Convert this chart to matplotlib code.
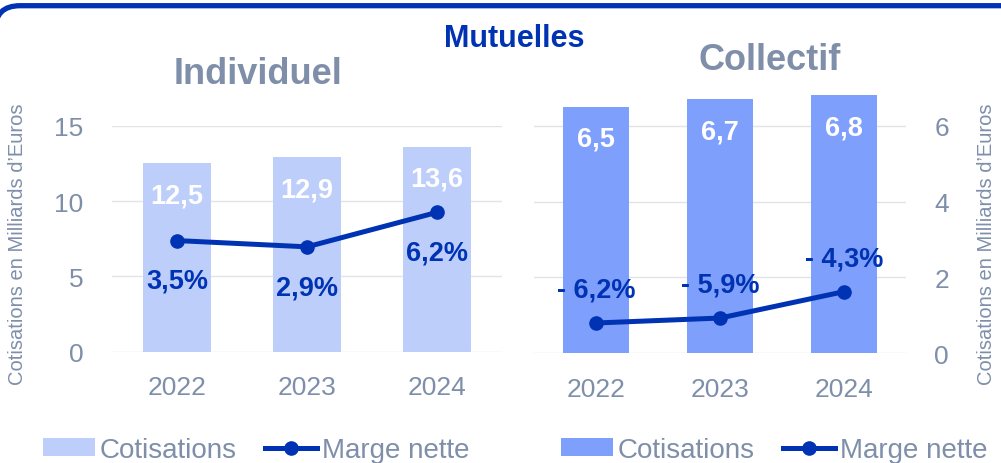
import matplotlib
matplotlib.use("Agg")
import matplotlib.pyplot as plt
from matplotlib.patches import Patch, PathPatch
from matplotlib.path import Path
from matplotlib.lines import Line2D

years = ["2022", "2023", "2024"]
indiv_cotis = [12.5, 12.9, 13.6]
indiv_marge = [3.5, 2.9, 6.2]
coll_cotis = [6.5, 6.7, 6.8]
coll_marge = [-6.2, -5.9, -4.3]
left_ticks = [0, 5, 10, 15]
right_ticks = [0, 2, 4, 6]

DARK = "#0033b4"
GREY = "#7f8faa"
GRID = "#e1e4ea"
LIGHT_BAR = "#bdcefb"
MID_BAR = "#7f9ffc"
FONT = "Liberation Sans"

W, H = 1001, 464
fig = plt.figure(figsize=(W / 100, H / 100), dpi=100)
plt.rcParams["font.family"] = [FONT, "DejaVu Sans"]


def fx(px):
    return px / W


def fy(py):
    return (H - py) / H


def fmt(v):
    return f"{v:.1f}".replace(".", ",")


def fmt_pct(v):
    s = f"{abs(v):.1f}".replace(".", ",") + "%"
    return ("- " + s) if v < 0 else s


def panel(rect, cotis, marge, ymax, ticks, bar_color, width, m_lim, right, label_off):
    ax = fig.add_axes(rect)
    x = list(range(len(years)))
    bars = ax.bar(x, cotis, width=width, color=bar_color, zorder=2)
    ax.set_xlim(-0.5, len(years) - 0.5)
    ax.set_ylim(0, ymax)
    ax.set_yticks(ticks)
    ax.set_xticks(x)
    ax.set_xticklabels(years)
    for s in ax.spines.values():
        s.set_visible(False)
    ax.grid(axis="y", color=GRID, linewidth=1.0, zorder=0)
    ax.set_axisbelow(True)
    for b, v in zip(bars, cotis):
        ax.annotate(fmt(v), (b.get_x() + b.get_width() / 2, b.get_height()),
                    xytext=(0, -23), textcoords="offset points",
                    ha="center", va="center", color="white",
                    fontsize=19.5, fontweight="bold")
    ax2 = ax.twinx()
    ax2.set_ylim(*m_lim)
    ax2.axis("off")
    ax2.plot(x, marge, color=DARK, linewidth=3.6, marker="o", markersize=9.5, zorder=3,
             solid_capstyle="round")
    for xi, m in zip(x, marge):
        ax2.annotate(fmt_pct(m), (xi, m), xytext=(0, label_off), textcoords="offset points",
                     ha="center", va="center", color=DARK, fontsize=19.5, fontweight="bold")
    if right:
        ax.yaxis.tick_right()
    else:
        ax.yaxis.tick_left()
    ax.tick_params(axis="both", length=0, labelsize=19, labelcolor=GREY)
    ax.tick_params(axis="x", pad=17)
    ax.tick_params(axis="y", pad=20.5)
    return ax


panel([fx(112), fy(352.7), fx(390), 226 / H], indiv_cotis, indiv_marge, 15, left_ticks,
      LIGHT_BAR, 0.523, (-7.133, 14.49), False, -29)
panel([fx(534), fy(354.3), fx(372), 265.5 / H], coll_cotis, coll_marge, 7, right_ticks,
      MID_BAR, 0.532, (-8.037, 8.055), True, 24)

# Titles
fig.text(fx(514), fy(46.7), "Mutuelles", ha="center", va="baseline", color=DARK,
         fontsize=22, fontweight="bold")
fig.text(fx(258.5), fy(84), "Individuel", ha="center", va="baseline", color=GREY,
         fontsize=26, fontweight="bold")
fig.text(fx(770), fy(70), "Collectif", ha="center", va="baseline", color=GREY,
         fontsize=26, fontweight="bold")

# Y labels
ylab = "Cotisations en Milliards d\u2019Euros"
fig.text(fx(18), fy(244), ylab, rotation=90, ha="center", va="center", color=GREY, fontsize=14.5)
fig.text(fx(987), fy(244), ylab, rotation=90, ha="center", va="center", color=GREY, fontsize=14.5)

# Legends
for x0, col in [(43, LIGHT_BAR), (561, MID_BAR)]:
    handles = [Patch(facecolor=col, edgecolor="none"),
               Line2D([0], [0], color=DARK, linewidth=3.6, marker="o", markersize=9.5)]
    fig.legend(handles, ["Cotisations", "Marge nette"], loc="center left",
               bbox_to_anchor=(fx(x0), fy(451)), ncol=2, frameon=False,
               fontsize=20, labelcolor=GREY, handlelength=1.87, handleheight=0.62,
               handletextpad=0.18, columnspacing=1.0, borderpad=0, borderaxespad=0)

# Border (rounded frame, cropped on the right and bottom)
ov = fig.add_axes([0, 0, 1, 1], zorder=10)
ov.set_xlim(0, W)
ov.set_ylim(H, 0)
ov.axis("off")
ov.patch.set_alpha(0)
path = Path([(-5, 60), (-5, 31.7), (-5, 6.7), (20, 6.7), (1020, 6.7)],
            [Path.MOVETO, Path.LINETO, Path.CURVE3, Path.CURVE3, Path.LINETO])
ov.add_patch(PathPatch(path, facecolor="none", edgecolor=DARK, linewidth=3.8))

fig.savefig("out.png", dpi=100)
